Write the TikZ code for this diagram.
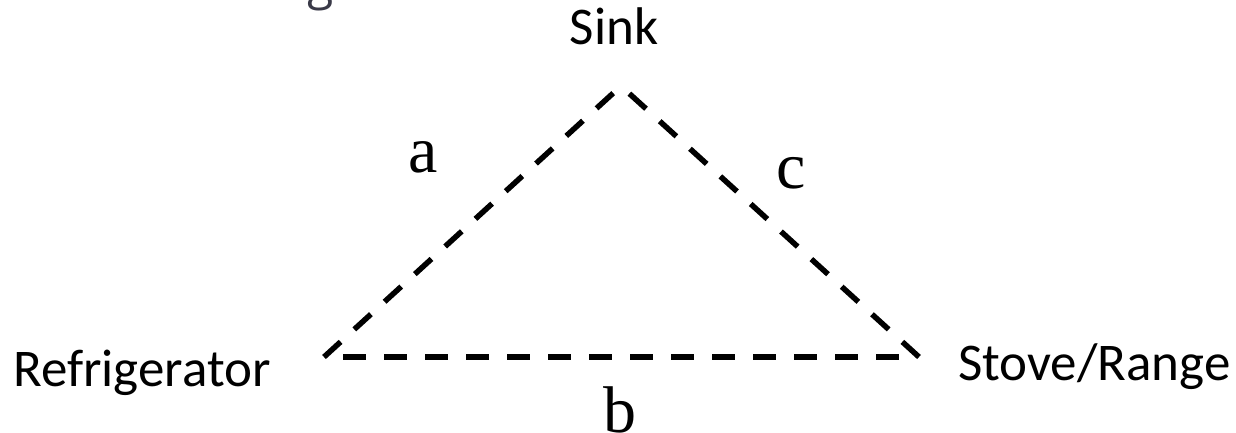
\documentclass[tikz,border=0pt]{standalone}
\usepackage{fontspec}
\setmainfont{Liberation Serif}
\setsansfont{Carlito}
\newfontfamily\titlefont{Open Sans}
\usepackage{xcolor}
\definecolor{titlegray}{RGB}{58,58,72}
\usetikzlibrary{positioning}

\begin{document}
\begin{tikzpicture}[x=0.5pt,y=-0.5pt,
    room/.style={font=\sffamily\fontsize{26.5}{30}\selectfont,inner sep=0pt},
    side/.style={font=\fontsize{33}{38}\selectfont,inner sep=0pt},
    walk/.style={line width=2.75pt,dash pattern=on 11.25pt off 9.25pt}]
       \useasboundingbox (0,0) rectangle (1236,433);

       % cut-off title
       \begin{scope}
         \clip (0,0) rectangle (1236,433);
         \node[text=titlegray,font=\titlefont\fontsize{24}{28}\selectfont,inner sep=0pt,anchor=base] (title) at (321,0) {g};
       \end{scope}

       \coordinate (fridge) at (324,357);
       \coordinate (sink) at (621,86);
       \coordinate (stove) at (919,357);

       \node[room,anchor=base west] (fridgelabel) at (13,386) {Refrigerator};
       \node[room,anchor=base] (sinklabel) at (614,45) {Sink};
       \node[room,anchor=base east] (stovelabel) at (1231,380) {Stove/Range};

       \node[side,anchor=base] (a) at (423,172) {a};
       \node[side,anchor=base] (b) at (620,432) {b};
       \node[side,anchor=base] (c) at (791,188) {c};

       \draw[walk] (fridge) -- (sink);
       \draw[walk] (stove) -- (sink);
       \draw[walk,shorten <=9.5pt,shorten >=9.5pt] (fridge) -- (stove);
    \end{tikzpicture}
\end{document}
